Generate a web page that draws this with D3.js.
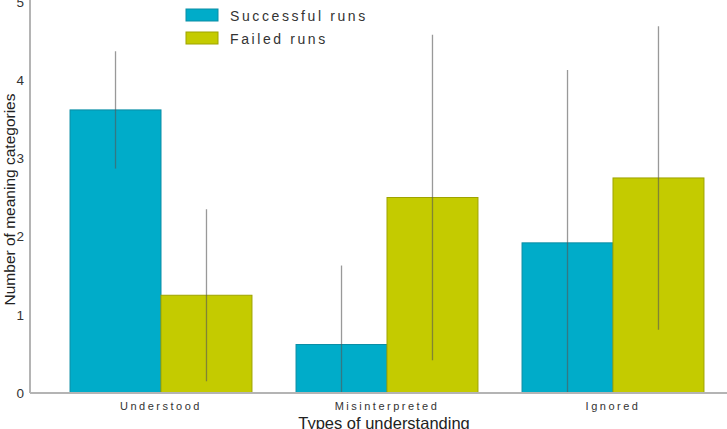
<!DOCTYPE html>
<html>
<head>
<meta charset="utf-8">
<script src="https://cdn.jsdelivr.net/npm/d3@7"></script>
<style>
body { margin:0; background:#fff; }
svg { display:block; font-family: "Liberation Sans", Arial, sans-serif; }
</style>
</head>
<body>
<div class="chart"></div>
<script>
// data
const categories = ["Understood", "Misinterpreted", "Ignored"];
const seriesNames = ["Successful runs", "Failed runs"];
const successMean = [3.62, 0.62, 1.92];
const successErr = [0.75, 1.01, 2.21];
const failedMean = [1.25, 2.50, 2.75];
const failedErr = [1.10, 2.08, 1.94];
const yTicks = [0, 1, 2, 3, 4, 5];

const colors = ["#00acc9", "#c4cb00"];
const strokes = ["#0a8da5", "#9ea300"];

let outWidth = 727, outHeight = 429;
let x0 = 30, yBase = 393, yTop = 2;

const svg = d3.select('.chart').append('svg')
	.attr("width", outWidth)
	.attr("height", outHeight);

let xScale = d3.scaleBand()
	.domain(categories)
	.range([48, 726])
	.paddingInner(0.195)
	.paddingOuter(0.0975);
let subScale = d3.scaleBand()
	.domain([0, 1])
	.range([0, xScale.bandwidth()]);
let yScale = d3.scaleLinear()
	.domain([0, 5])
	.range([yBase, yTop]);

const rows = [];
categories.forEach((c, i) => {
	rows.push({cat: c, s: 0, mean: successMean[i], err: successErr[i]});
	rows.push({cat: c, s: 1, mean: failedMean[i], err: failedErr[i]});
});

// bars
svg.append("g").selectAll("rect")
	.data(rows)
	.enter()
	.append("rect")
	.attr("x", d => xScale(d.cat) + subScale(d.s))
	.attr("y", d => yScale(d.mean))
	.attr("width", subScale.bandwidth())
	.attr("height", d => yBase - yScale(d.mean))
	.attr("fill", d => colors[d.s])
	.attr("stroke", d => strokes[d.s])
	.attr("stroke-width", 1);

// error bars (lower end clipped at 0)
svg.append("g").selectAll("line")
	.data(rows)
	.enter()
	.append("line")
	.attr("x1", d => xScale(d.cat) + subScale(d.s) + subScale.bandwidth() / 2)
	.attr("x2", d => xScale(d.cat) + subScale(d.s) + subScale.bandwidth() / 2)
	.attr("y1", d => yScale(Math.max(0, d.mean - d.err)))
	.attr("y2", d => yScale(d.mean + d.err))
	.attr("stroke", "#555")
	.attr("stroke-opacity", 0.6)
	.attr("stroke-width", 1.3);

// axes
const yAxis = d3.axisLeft(yScale).tickValues(yTicks).tickSize(0).tickPadding(6).tickFormat(d3.format("d"));
const gy = svg.append("g")
	.attr("transform", `translate(${x0},0)`)
	.call(yAxis);
gy.select(".domain").remove();
gy.selectAll("text").attr("font-size", 13.5).attr("fill", "#333").attr("font-family", "Liberation Sans, Arial, sans-serif");

const xAxis = d3.axisBottom(xScale).tickSize(0).tickPadding(9);
const gx = svg.append("g")
	.attr("transform", `translate(0,${yBase})`)
	.call(xAxis);
gx.select(".domain").remove();
gx.selectAll("text").attr("font-size", 11).attr("fill", "#333")
	.attr("letter-spacing", "2.5px")
	.attr("font-family", "Liberation Sans, Arial, sans-serif");

svg.append("line")
	.attr("x1", x0).attr("x2", x0).attr("y1", 0).attr("y2", yBase)
	.attr("stroke", "#b4b4b4").attr("stroke-width", 2);
svg.append("line")
	.attr("x1", x0).attr("x2", outWidth).attr("y1", yBase).attr("y2", yBase)
	.attr("stroke", "#b4b4b4").attr("stroke-width", 2);

// axis titles
svg.append("text")
	.attr("transform", `translate(15,${(yBase + yTop) / 2 + 2}) rotate(-90)`)
	.attr("text-anchor", "middle")
	.attr("font-size", 15.5)
	.attr("fill", "#222")
	.text("Number of meaning categories");
svg.append("text")
	.attr("x", 384)
	.attr("y", 429)
	.attr("text-anchor", "middle")
	.attr("font-size", 16.5)
	.attr("fill", "#222")
	.text("Types of understanding");

// legend
const legend = svg.append("g").selectAll("g")
	.data(seriesNames)
	.enter()
	.append("g")
	.attr("transform", (d, i) => `translate(186,${9 + i * 23})`);
legend.append("rect")
	.attr("width", 32).attr("height", 12)
	.attr("fill", (d, i) => colors[i])
	.attr("stroke", (d, i) => strokes[i]);
legend.append("text")
	.attr("x", 44).attr("y", 11.5)
	.attr("font-size", 14)
	.attr("letter-spacing", "2.6px")
	.attr("fill", "#333")
	.text(d => d);
</script>
</body>
</html>
